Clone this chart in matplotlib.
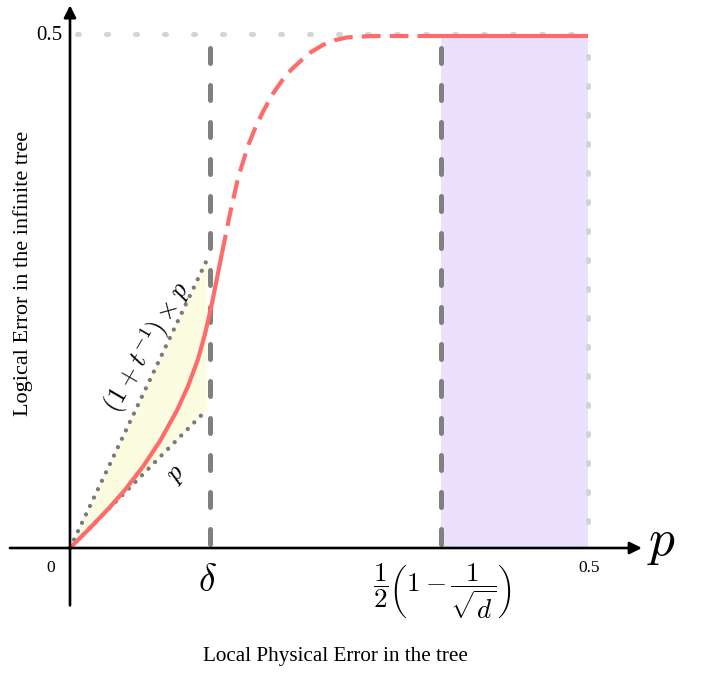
import matplotlib
matplotlib.use("Agg")
import matplotlib.pyplot as plt
import numpy as np

# ---------------- data ----------------
p_curve = [0.0, 0.0193, 0.0386, 0.0541, 0.0705, 0.0869, 0.1033, 0.1139, 0.1236, 0.1303,
           0.1371, 0.1467, 0.1544, 0.1622, 0.1718, 0.1786, 0.1863, 0.1959, 0.2056, 0.2133,
           0.2220, 0.2326, 0.2442, 0.2558, 0.2674, 0.2896, 0.3118, 0.3456, 0.5]
err_curve = [0.0, 0.0195, 0.0400, 0.0580, 0.0796, 0.1045, 0.1344, 0.1580, 0.1844, 0.2090,
             0.2391, 0.2879, 0.3262, 0.3613, 0.3926, 0.4097, 0.4261, 0.4437, 0.4578, 0.4668,
             0.4751, 0.4843, 0.4913, 0.4960, 0.4986, 0.4999, 0.5, 0.5, 0.5]
solid1_end = 11   # index where first solid segment ends
dashed_end = 27   # index where dashed segment ends

bound_p = [0.0, 0.132]
upper_bound = [0.0, 0.281]   # (1 + t^-1) * p
lower_bound = [0.0, 0.135]   # p

delta = 0.135
threshold = 0.358
p_max = 0.5
err_max = 0.5

# ---------------- style ----------------
plt.rcParams['font.family'] = ['Liberation Serif', 'DejaVu Serif']
plt.rcParams['mathtext.fontset'] = 'cm'

RED = '#ff6b6b'
DGRAY = '#808080'
LGRAY = '#d4d4d4'
DOT = '#7a7a7a'
PURPLE = '#ebe0fd'
YELLOW = '#fcfcdc'

fig = plt.figure(figsize=(7.15, 6.75), dpi=100)
ax = fig.add_axes([0, 0, 1, 1])
ax.set_xlim(-70 / 1036, 645 / 1036)
ax.set_ylim(-127 / 1024, 548 / 1024)
ax.axis('off')

# purple region
ax.fill_between([threshold, p_max], [0, 0], [err_max, err_max], color=PURPLE, lw=0, zorder=1)

# light gray dotted guides
ax.plot([0.007, p_max], [err_max + 0.002, err_max + 0.002], color=LGRAY, lw=3.6,
        dashes=(0.4, 5.4), dash_capstyle='round', zorder=2)
ax.plot([p_max, p_max], [err_max - 0.02, 0], color=LGRAY, lw=3.6,
        dashes=(0.4, 5.4), dash_capstyle='round', zorder=2)

# gray dashed verticals
for xv in (delta, threshold):
    ax.plot([xv, xv], [0.488, 0], color=DGRAY, lw=3.6, dashes=(3.0, 4.4),
            dash_capstyle='round', zorder=3)

# yellow region between the bounds
ax.fill_between(bound_p, lower_bound, upper_bound, color=YELLOW, alpha=0.85, lw=0, zorder=4)

# dotted bounds
for yb in (upper_bound, lower_bound):
    ax.plot(bound_p, yb, color=DOT, lw=3.1, dashes=(0.01, 2.15),
            dash_capstyle='round', zorder=5)

# red curve
pc = np.array(p_curve)
ec = np.array(err_curve)
ax.plot(pc[:solid1_end + 1], ec[:solid1_end + 1], color=RED, lw=3.0,
        solid_capstyle='butt', solid_joinstyle='round', zorder=6)
ax.plot(pc[solid1_end:dashed_end + 1], ec[solid1_end:dashed_end + 1], color=RED, lw=3.0,
        dashes=(4.5, 2.2), zorder=6)
ax.plot(pc[dashed_end:], ec[dashed_end:], color=RED, lw=3.0, solid_capstyle='butt', zorder=6)

# axes with arrows
ax.annotate('', xy=(0.552, 0), xytext=(-0.058, 0),
            arrowprops=dict(arrowstyle='-|>', lw=1.9, color='black',
                            mutation_scale=18, shrinkA=0, shrinkB=0), zorder=7)
ax.annotate('', xy=(0, 0.53), xytext=(0, -0.056),
            arrowprops=dict(arrowstyle='-|>', lw=1.9, color='black',
                            mutation_scale=18, shrinkA=0, shrinkB=0), zorder=7)

# tick-like labels
ax.text(-0.007, 0.5, '0.5', ha='right', va='center', fontsize=15)
ax.text(-0.019, -0.0195, '0', ha='center', va='center', fontsize=12.5)
ax.text(0.501, -0.0195, '0.5', ha='center', va='center', fontsize=12.5)
ax.text(0.133, -0.033, r'$\delta$', ha='center', va='center', fontsize=27)
ax.text(0.557, -0.0068, r'$p$', ha='left', va='baseline', fontsize=37)
ax.text(0.359, -0.0425, r'$\dfrac{1}{2}\left(1-\dfrac{1}{\sqrt{d}}\right)$',
        ha='center', va='center', fontsize=19.5)

# rotated labels along the bounds
ax.text(0.0745, 0.196, r'$(1+t^{-1})\times p$', ha='center', va='center',
        fontsize=19, rotation=60)
ax.text(0.104, 0.071, r'$p$', ha='center', va='center', fontsize=19, rotation=50)

# axis titles
ax.text(0.256, -0.106, 'Local Physical Error in the tree', ha='center', va='center',
        fontsize=15.2)
ax.text(-0.045, 0.2686, 'Logical Error in the infinite tree', ha='center', va='center',
        fontsize=16, rotation=90)

fig.savefig('out.png', dpi=100)
